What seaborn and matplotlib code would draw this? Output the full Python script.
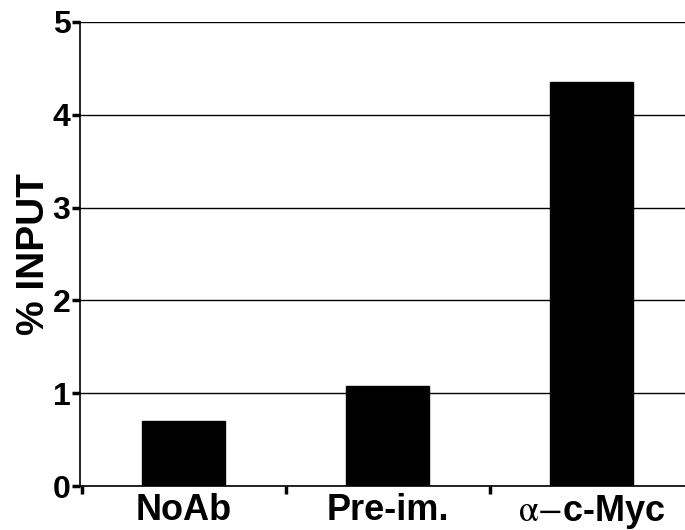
import matplotlib
matplotlib.use("Agg")
import matplotlib.pyplot as plt
import seaborn as sns
import pandas as pd
from matplotlib.ticker import FixedLocator, NullFormatter

categories = ["NoAb", "Pre-im.", r"$\mathrm{\alpha}{-}$c-Myc"]
values = [0.70, 1.08, 4.35]
yticks = [0, 1, 2, 3, 4, 5]

sns.set_style("white")
plt.rcParams["font.family"] = ["Liberation Sans", "DejaVu Sans"]
plt.rcParams["mathtext.fontset"] = "stix"
for k in ["text.color", "axes.labelcolor", "xtick.color", "ytick.color"]:
    plt.rcParams[k] = "black"

df = pd.DataFrame({"cat": categories, "val": values})

fig = plt.figure(figsize=(6.85, 5.30), dpi=100)
ax = fig.add_axes([80/685, 1-486/530, 1-80/685, (486-22)/530])

sns.barplot(data=df, x="cat", y="val", color="black", width=0.407,
            saturation=1, ax=ax, edgecolor="black")

ax.set_axisbelow(True)
ax.yaxis.grid(True, color="black", linewidth=1)
ax.xaxis.grid(False)
ax.set_ylim(0, 5)
ax.set_xlim(-0.509, 2.459)
ax.set_yticks(yticks)
ax.set_yticklabels([str(t) for t in yticks], fontsize=23, fontweight="bold")

ax.xaxis.set_major_locator(FixedLocator([-0.5, 0.5, 1.5]))
ax.xaxis.set_major_formatter(NullFormatter())
ax.set_xticks([0, 1, 2], minor=True)
ax.set_xticklabels(categories, minor=True, fontsize=26, fontweight="bold")
ax.tick_params(axis="x", which="major", direction="out", length=6, width=2.5,
               color="black", bottom=True)
ax.tick_params(axis="x", which="minor", length=0, pad=5)
ax.tick_params(axis="y", direction="out", length=6, width=2.5, color="black",
               left=True, pad=1)

for s in ["top", "right"]:
    ax.spines[s].set_visible(False)
for s in ["left", "bottom"]:
    ax.spines[s].set_color("black")
    ax.spines[s].set_linewidth(1.2)

ax.set_xlabel("")
ax.set_ylabel("% INPUT", fontsize=28, fontweight="bold", labelpad=0)

fig.savefig("out.png", dpi=100)
